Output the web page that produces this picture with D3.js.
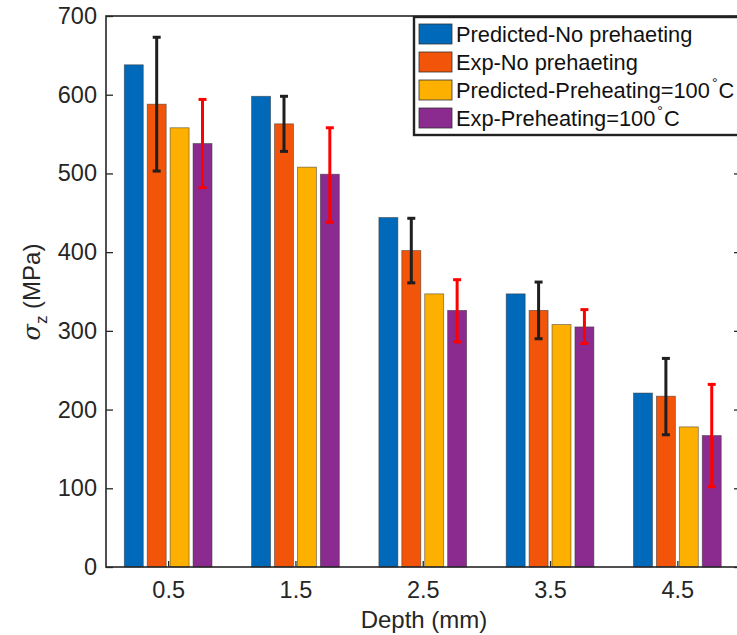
<!DOCTYPE html>
<html>
<head>
<meta charset="utf-8">
<script src="https://cdn.jsdelivr.net/npm/d3@7"></script>
<style>
  body { margin: 0; background: #fff; }
  text { font-family: "Liberation Sans", Arial, sans-serif; fill: #262626; }
</style>
</head>
<body>
<div id="chart"></div>
<script>
// values
var depths = [0.5, 1.5, 2.5, 3.5, 4.5];
var predNo = [638, 598, 444, 347, 221];
var expNo = [588, 563, 402, 326, 217];
var expNoLow = [503, 528, 361, 290, 168];
var expNoHigh = [673, 598, 443, 362, 265];
var predPre = [558, 508, 347, 308, 178];
var expPre = [538, 499, 326, 305, 167];
var expPreLow = [482, 438, 286, 284, 102];
var expPreHigh = [594, 558, 365, 327, 232];
var yTicks = [0, 100, 200, 300, 400, 500, 600, 700];
var seriesNames = ["Predicted-No prehaeting", "Exp-No prehaeting", "Predicted-Preheating=100", "Exp-Preheating=100"];
var colors = ["#0069B9", "#F25409", "#FDB000", "#8B2A8F"];

var svg = d3.select("#chart").append("svg")
    .attr("width", 737)
    .attr("height", 635);

var plotL = 106, plotR = 741, plotT = 16, plotB = 567;

var x = d3.scaleLinear().domain([0, 5]).range([plotL - 1.5, plotR]);
var y = d3.scaleLinear().domain([0, 700]).range([plotB, plotT]);

var slot = 0.18, barW = 0.149;
var series = [predNo, expNo, predPre, expPre];

var g = svg.append("g");

series.forEach(function (vals, s) {
    g.selectAll(".bar" + s)
        .data(vals)
        .enter().append("rect")
        .attr("x", function (d, i) { return x(depths[i] + (s - 1.5) * slot - barW / 2); })
        .attr("width", x(barW) - x(0))
        .attr("y", function (d) { return y(d); })
        .attr("height", function (d) { return y(0) - y(d); })
        .attr("fill", colors[s])
        .attr("stroke", "#333")
        .attr("stroke-opacity", 0.6)
        .attr("stroke-width", 0.8);
});

function addErrors(s, lo, hi, col) {
    var cap = 4;
    lo.forEach(function (l, i) {
        var cx = x(depths[i] + (s - 1.5) * slot);
        var eg = g.append("g").attr("stroke", col).attr("stroke-width", 3);
        eg.append("line").attr("x1", cx).attr("x2", cx).attr("y1", y(l)).attr("y2", y(hi[i]));
        eg.append("line").attr("x1", cx - cap).attr("x2", cx + cap).attr("y1", y(l)).attr("y2", y(l));
        eg.append("line").attr("x1", cx - cap).attr("x2", cx + cap).attr("y1", y(hi[i])).attr("y2", y(hi[i]));
    });
}
addErrors(1, expNoLow, expNoHigh, "#1f1f1f");
addErrors(3, expPreLow, expPreHigh, "#FF0000");

// axes box
var axisCol = "#262626";
var yAxis = d3.axisLeft(y).tickValues(yTicks).tickSize(-7).tickPadding(9);
var ya = svg.append("g").attr("transform", "translate(" + plotL + ",0)").call(yAxis);
ya.select(".domain").remove();
ya.selectAll("line").attr("stroke", axisCol).attr("stroke-width", 1.3);
ya.selectAll("text").style("font-size", "23.5px").style("fill", axisCol).attr("font-family", null);

var yr = svg.append("g").attr("transform", "translate(" + plotR + ",0)")
    .call(d3.axisRight(y).tickValues(yTicks).tickSize(-7).tickFormat(""));
yr.select(".domain").remove();
yr.selectAll("line").attr("stroke", axisCol).attr("stroke-width", 1.3);

var xAxis = d3.axisBottom(x).tickValues(depths).tickSize(-6).tickPadding(14).tickFormat(d3.format(".1f"));
var xa = svg.append("g").attr("transform", "translate(0," + plotB + ")").call(xAxis);
xa.select(".domain").remove();
xa.selectAll("line").attr("stroke", axisCol).attr("stroke-width", 1.3);
xa.selectAll("text").style("font-size", "23.5px").style("fill", axisCol).attr("font-family", null);

svg.append("rect")
    .attr("x", plotL).attr("y", plotT)
    .attr("width", plotR - plotL).attr("height", plotB - plotT)
    .attr("fill", "none").attr("stroke", axisCol).attr("stroke-width", 1.6);

// axis titles
svg.append("text")
    .attr("x", 424).attr("y", 628)
    .attr("text-anchor", "middle")
    .style("font-size", "24px")
    .text("Depth (mm)");

var yl = svg.append("text")
    .attr("transform", "translate(40,292) rotate(-90)")
    .attr("text-anchor", "middle")
    .style("font-size", "24px");
yl.append("tspan").style("font-style", "italic").style("font-family", "DejaVu Serif, serif").text("σ");
yl.append("tspan").attr("dy", 7).style("font-size", "17px").text("z");
yl.append("tspan").attr("dy", -7).text(" (MPa)");

// legend
var lg = svg.append("g");
lg.append("rect")
    .attr("x", 414).attr("y", 17)
    .attr("width", 340).attr("height", 118)
    .attr("fill", "#fff").attr("stroke", "#222").attr("stroke-width", 2.4);
var rowsY = [34, 62, 90, 118];
seriesNames.forEach(function (name, i) {
    lg.append("rect")
        .attr("x", 419).attr("y", rowsY[i] - 10)
        .attr("width", 33).attr("height", 20)
        .attr("fill", colors[i]).attr("stroke", "#333").attr("stroke-width", 0.8);
    var t = lg.append("text")
        .attr("x", 456).attr("y", rowsY[i] + 8)
        .style("font-size", "21.8px")
        .style("fill", "#111")
        .text(name);
    if (i >= 2) {
        t.append("tspan").attr("dx", 2).attr("dy", -10).style("font-size", "14px").text("°");
        t.append("tspan").attr("dx", 1).attr("dy", 10).text("C");
    }
});
</script>
</body>
</html>
